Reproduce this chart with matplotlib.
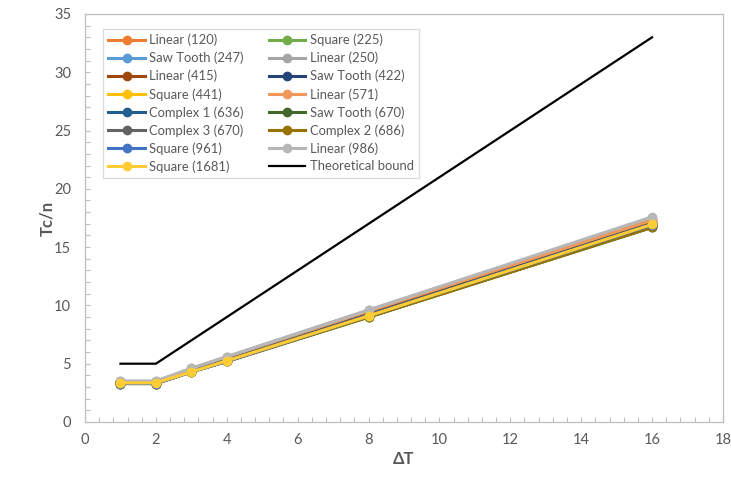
import matplotlib.pyplot as plt
from matplotlib.ticker import MultipleLocator

plt.rcParams['font.family'] = ['Lato', 'DejaVu Sans']

# x values (delta T)
dt = [1, 2, 3, 4, 8, 16]

labels = ["Linear (120)", "Square (225)", "Saw Tooth (247)", "Linear (250)",
          "Linear (415)", "Saw Tooth (422)", "Square (441)", "Linear (571)",
          "Complex 1 (636)", "Saw Tooth (670)", "Complex 3 (670)", "Complex 2 (686)",
          "Square (961)", "Linear (986)", "Square (1681)"]

colors = ["#ED7D31", "#70AD47", "#5B9BD5", "#A5A5A5",
          "#9E480E", "#264478", "#FFC000", "#F1975A",
          "#255E91", "#43682B", "#636363", "#997300",
          "#4472C4", "#B7B7B7", "#FFCD33"]

# Tc/n for each series
vals = [
    [3.40, 3.40, 4.50, 5.50, 9.50, 17.30],
    [3.30, 3.30, 4.30, 5.20, 9.00, 16.70],
    [3.40, 3.40, 4.40, 5.40, 9.30, 17.10],
    [3.50, 3.50, 4.60, 5.60, 9.60, 17.50],
    [3.40, 3.40, 4.40, 5.40, 9.30, 17.10],
    [3.40, 3.40, 4.40, 5.30, 9.20, 17.00],
    [3.30, 3.30, 4.30, 5.20, 9.10, 16.90],
    [3.40, 3.40, 4.50, 5.50, 9.50, 17.30],
    [3.40, 3.40, 4.40, 5.30, 9.20, 17.00],
    [3.30, 3.30, 4.30, 5.20, 9.00, 16.70],
    [3.40, 3.40, 4.40, 5.30, 9.20, 16.90],
    [3.30, 3.30, 4.30, 5.20, 9.00, 16.70],
    [3.30, 3.30, 4.30, 5.20, 9.10, 16.90],
    [3.50, 3.50, 4.60, 5.60, 9.60, 17.60],
    [3.35, 3.35, 4.30, 5.25, 9.10, 16.95],
]

bound = [5, 5, 7, 9, 17, 33]

grey = "#595959"
axis_grey = "#BFBFBF"

fig = plt.figure(figsize=(7.31, 4.82), dpi=100)
ax = fig.add_axes([0.1163, 0.1245, 0.8727, 0.8465])

for lab, col, v in zip(labels, colors, vals):
    ax.plot(dt, v, color=col, lw=2.2, marker='o', ms=6, label=lab)
ax.plot(dt, bound, color='black', lw=1.6, label="Theoretical bound")

ax.set_xlim(0, 18)
ax.set_ylim(0, 35)
ax.xaxis.set_major_locator(MultipleLocator(2))
ax.yaxis.set_major_locator(MultipleLocator(5))
ax.xaxis.set_minor_locator(MultipleLocator(0.4))
ax.yaxis.set_minor_locator(MultipleLocator(1))
ax.tick_params(which='both', direction='in', length=3.5, width=0.8, color=axis_grey,
               labelcolor=grey, labelsize=10.5)
ax.tick_params(axis='x', which='major', pad=8)
ax.tick_params(axis='y', which='major', pad=10)
for s in ax.spines.values():
    s.set_color(axis_grey)
    s.set_linewidth(0.9)

ax.set_xlabel("ΔT", fontsize=12, fontweight='bold', color=grey)
ax.set_ylabel("Tc/n", fontsize=12, fontweight='bold', color=grey)
ax.xaxis.set_label_coords(0.5, -0.07)
ax.yaxis.set_label_coords(-0.046, 0.5)

# Excel fills the legend row by row; matplotlib fills by column
handles, labs = ax.get_legend_handles_labels()
order = list(range(0, len(handles), 2)) + list(range(1, len(handles), 2))
leg = ax.legend([handles[i] for i in order], [labs[i] for i in order],
                ncol=2, loc='upper left', bbox_to_anchor=(0.018, 0.98), fontsize=9.4,
                handlelength=2.8, labelspacing=0.42, columnspacing=1.9,
                handletextpad=0.35, borderpad=0.4, fancybox=False, framealpha=1)
leg.get_frame().set_edgecolor("#D9D9D9")
leg.get_frame().set_linewidth(0.9)
for t in leg.get_texts():
    t.set_color(grey)

fig.savefig("out.png", dpi=100)
